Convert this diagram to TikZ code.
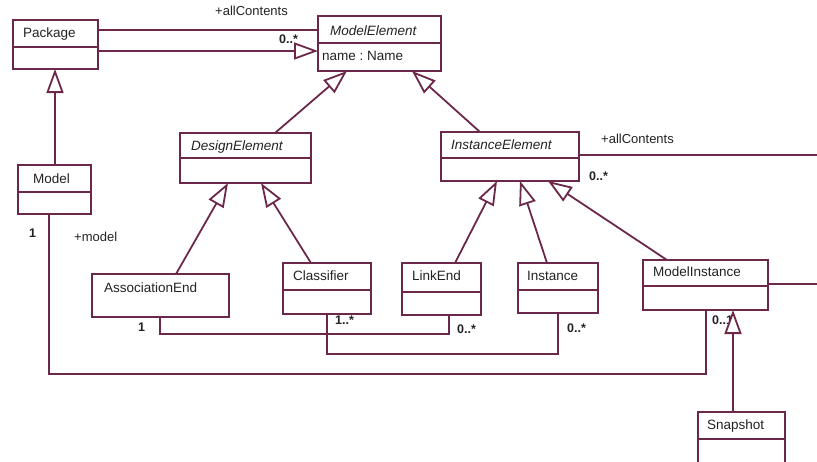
\documentclass[tikz,border=0pt]{standalone}
\usepackage{fontspec}
\setmainfont{Liberation Sans}
\usetikzlibrary{arrows.meta,calc}
\definecolor{umlline}{RGB}{108,40,74}
\definecolor{umltext}{RGB}{35,35,35}
\tikzset{
  umlbox/.style={draw=umlline, fill=white, line width=1.8pt, rectangle, inner sep=0pt, outer sep=0pt, anchor=north west},
  boxlabel/.style={anchor=base west, inner sep=0pt, text=umltext, font=\fontsize{13.5}{16}\selectfont\frenchspacing},
  abstractlabel/.style={anchor=base west, inner sep=0pt, text=umltext, font=\fontsize{13.5}{16}\selectfont\itshape},
  mult/.style={anchor=base west, inner sep=0pt, text=umltext, font=\fontsize{12.5}{14}\selectfont\bfseries},
  role/.style={anchor=base west, inner sep=0pt, text=umltext, font=\fontsize{13}{15}\selectfont},
  assoc/.style={draw=umlline, line width=1.8pt},
  divider/.style={draw=umlline, line width=1.8pt},
  gen/.style={draw=umlline, line width=1.8pt, -{Triangle[length=24pt,width=17pt,fill=white]}},
}
\begin{document}
\begin{tikzpicture}[x=1pt,y=-1pt]
\clip (0,0) rectangle (817,461);
\fill[white] (0,0) rectangle (817,461);

% ---- boxes ----
\node[umlbox, minimum width=85pt, minimum height=49pt] (pkg) at (13,20) {};
\node[boxlabel] (pkgL) at (23,37) {Package};
\coordinate (pkgD) at (0,47);
\draw[divider] (pkg.west |- pkgD) -- (pkg.east |- pkgD);

\node[umlbox, minimum width=123pt, minimum height=55pt] (me) at (318,16) {};
\node[abstractlabel] (meL) at (330,35) {ModelElement};
\coordinate (meD) at (0,43);
\draw[divider] (me.west |- meD) -- (me.east |- meD);
\node[boxlabel] (meA) at (322,60) {name : Name};

\node[umlbox, minimum width=131pt, minimum height=50pt] (de) at (180,133) {};
\node[abstractlabel] (deL) at (191,150) {DesignElement};
\coordinate (deD) at (0,158);
\draw[divider] (de.west |- deD) -- (de.east |- deD);

\node[umlbox, minimum width=138pt, minimum height=49pt] (ie) at (441,132) {};
\node[abstractlabel] (ieL) at (451,149) {InstanceElement};
\coordinate (ieD) at (0,158);
\draw[divider] (ie.west |- ieD) -- (ie.east |- ieD);

\node[umlbox, minimum width=73pt, minimum height=49pt] (mdl) at (18,165) {};
\node[boxlabel] (mdlL) at (33,183) {Model};
\coordinate (mdlD) at (0,192);
\draw[divider] (mdl.west |- mdlD) -- (mdl.east |- mdlD);

\node[umlbox, minimum width=137pt, minimum height=43pt] (ae) at (92,274) {};
\node[boxlabel] (aeL) at (104,292) {AssociationEnd};

\node[umlbox, minimum width=88pt, minimum height=51pt] (cl) at (283,263) {};
\node[boxlabel] (clL) at (293,280) {Classifier};
\coordinate (clD) at (0,290);
\draw[divider] (cl.west |- clD) -- (cl.east |- clD);

\node[umlbox, minimum width=79pt, minimum height=52pt] (le) at (402,263) {};
\node[boxlabel] (leL) at (412,280) {LinkEnd};
\coordinate (leD) at (0,292);
\draw[divider] (le.west |- leD) -- (le.east |- leD);

\node[umlbox, minimum width=80pt, minimum height=50pt] (in) at (518,263) {};
\node[boxlabel] (inL) at (527,280) {Instance};
\coordinate (inD) at (0,290);
\draw[divider] (in.west |- inD) -- (in.east |- inD);

\node[umlbox, minimum width=125pt, minimum height=50pt] (mi) at (643,260) {};
\node[boxlabel] (miL) at (653,276) {ModelInstance};
\coordinate (miD) at (0,286);
\draw[divider] (mi.west |- miD) -- (mi.east |- miD);

\node[umlbox, minimum width=87pt, minimum height=70pt] (sn) at (698,412) {};
\node[boxlabel] (snL) at (707,429) {Snapshot};
\coordinate (snD) at (0,439);
\draw[divider] (sn.west |- snD) -- (sn.east |- snD);

% ---- labels ----
\node[role] (r1) at (215,15) {+allContents};
\node[mult] (m1) at (279,43) {0..*};
\node[role] (r2) at (601,143) {+allContents};
\node[mult] (m2) at (589,180) {0..*};
\node[mult] (m3) at (29,237) {1};
\node[role] (r3) at (74,241) {+model};
\node[mult] (m4) at (138,331) {1};
\node[mult] (m5) at (335,324) {1..*};
\node[mult] (m6) at (457,333) {0..*};
\node[mult] (m7) at (567,332) {0..*};
\node[mult] (m8) at (712,324) {0..1};

% ---- associations ----
\coordinate (ieEnd) at (817,155);
\coordinate (miEnd) at (817,284);
\draw[assoc] ([yshift=-10pt]pkg.north east) -- ([yshift=-14pt]me.north west);
\draw[assoc] ([yshift=-23pt]ie.north east) -- (ieEnd);
\draw[assoc] ([yshift=-24pt]mi.north east) -- (miEnd);
\draw[assoc] ([xshift=31pt]mdl.south west) -- ++(0,160) -| ([xshift=63pt]mi.south west);
\draw[assoc] ([xshift=68pt]ae.south west) -- ++(0,17) -| ([xshift=47pt]le.south west);
\draw[assoc] ([xshift=44pt]cl.south west) -- ++(0,40) -| ([xshift=40pt]in.south west);

% ---- generalizations ----
\draw[gen] ([yshift=-31pt]pkg.north east) -- ([yshift=-35pt]me.north west);
\draw[gen] ([xshift=37pt]mdl.north west) -- ([xshift=42pt]pkg.south west);
\draw[gen] ([xshift=84pt]ae.north west) -- ([xshift=48pt]de.south west);
\draw[gen] ([xshift=28pt]cl.north west) -- ([xshift=81pt]de.south west);
\draw[gen] ([xshift=95pt]de.north west) -- ([xshift=29pt]me.south west);
\draw[gen] ([xshift=39pt]ie.north west) -- ([xshift=94pt]me.south west);
\draw[gen] ([xshift=53pt]le.north west) -- ([xshift=56pt]ie.south west);
\draw[gen] ([xshift=29pt]in.north west) -- ([xshift=79pt]ie.south west);
\draw[gen] ([xshift=24pt]mi.north west) -- ([xshift=107pt]ie.south west);
\draw[gen] ([xshift=35pt]sn.north west) -- ([xshift=90pt]mi.south west);
\end{tikzpicture}
\end{document}
